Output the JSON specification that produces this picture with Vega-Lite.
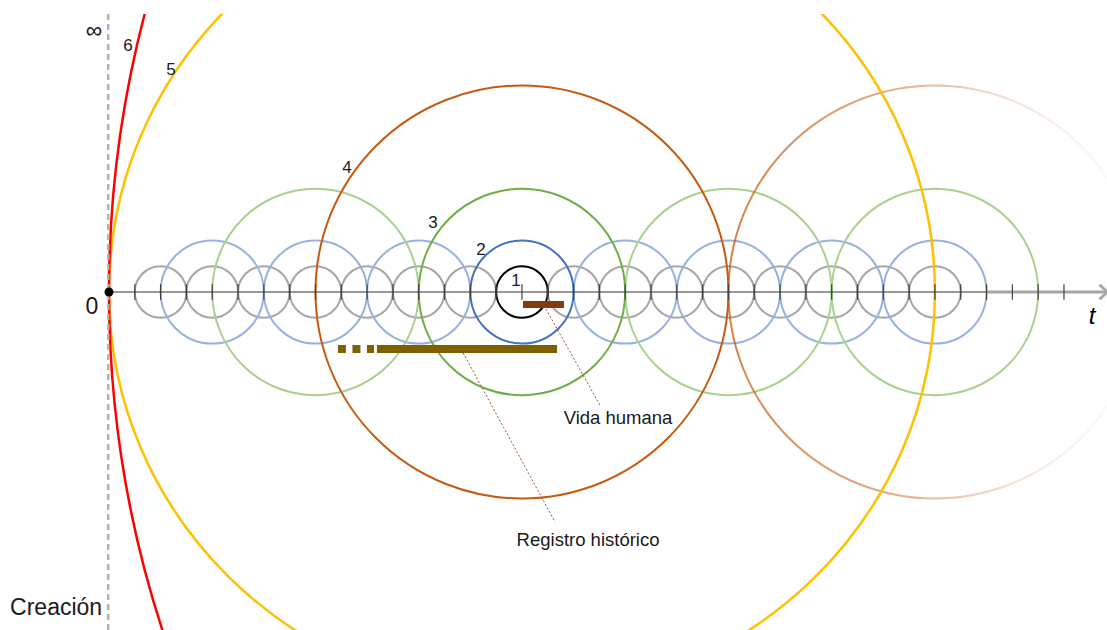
{
  "$schema": "https://vega.github.io/schema/vega-lite/v6.json",
  "autosize": "none",
  "width": 1107,
  "height": 616,
  "padding": {"top": 14, "left": 0, "right": 0, "bottom": 0},
  "background": "white",
  "config": {"view": {"stroke": null}},
  "datasets": {
    "light": [
      {"level": "gris", "t": 2, "r": 1}, {"level": "gris", "t": 4, "r": 1}, {"level": "gris", "t": 6, "r": 1},
      {"level": "gris", "t": 8, "r": 1}, {"level": "gris", "t": 10, "r": 1}, {"level": "gris", "t": 12, "r": 1},
      {"level": "gris", "t": 14, "r": 1}, {"level": "gris", "t": 18, "r": 1}, {"level": "gris", "t": 20, "r": 1},
      {"level": "gris", "t": 22, "r": 1}, {"level": "gris", "t": 24, "r": 1}, {"level": "gris", "t": 26, "r": 1},
      {"level": "gris", "t": 28, "r": 1}, {"level": "gris", "t": 30, "r": 1}, {"level": "gris", "t": 32, "r": 1},
      {"level": "azul", "t": 4, "r": 2}, {"level": "azul", "t": 8, "r": 2}, {"level": "azul", "t": 12, "r": 2},
      {"level": "azul", "t": 20, "r": 2}, {"level": "azul", "t": 24, "r": 2}, {"level": "azul", "t": 28, "r": 2},
      {"level": "azul", "t": 32, "r": 2},
      {"level": "verde", "t": 8, "r": 4}, {"level": "verde", "t": 24, "r": 4}, {"level": "verde", "t": 32, "r": 4}
    ],
    "faded": [{"t": 32, "r": 8}],
    "main": [
      {"level": "4", "t": 16, "r": 8},
      {"level": "3", "t": 16, "r": 4},
      {"level": "2", "t": 16, "r": 2},
      {"level": "1", "t": 16, "r": 1}
    ],
    "yellow": [{"level": "5", "t": 16, "r": 16}],
    "red": [{"level": "6", "t": 42.5, "r": 42.5}],
    "axisline": [{"t": 0, "t2": 34, "y": 0, "y2": 0}],
    "axisgray": [
      {"t": 34, "t2": 38.7, "y": 0, "y2": 0},
      {"t": 38.38, "t2": 38.68, "y": 0.28, "y2": 0},
      {"t": 38.38, "t2": 38.68, "y": -0.28, "y2": 0}
    ],
    "ticks": [
      {"t": 1}, {"t": 2}, {"t": 3}, {"t": 4}, {"t": 5}, {"t": 6}, {"t": 7}, {"t": 8}, {"t": 9}, {"t": 10},
      {"t": 11}, {"t": 12}, {"t": 13}, {"t": 14}, {"t": 15}, {"t": 16}, {"t": 17}, {"t": 18}, {"t": 19}, {"t": 20},
      {"t": 21}, {"t": 22}, {"t": 23}, {"t": 24}, {"t": 25}, {"t": 26}, {"t": 27}, {"t": 28}, {"t": 29}, {"t": 30},
      {"t": 31}, {"t": 32}, {"t": 33}, {"t": 34}, {"t": 35}, {"t": 36}, {"t": 37}
    ],
    "vline": [{"t": -0.03, "y": 10.771, "y2": -13.096}],
    "vida": [{"t": 16.04, "t2": 17.63, "y": -0.48}],
    "registro": [{"t": 10.38, "t2": 17.36, "y": -2.21}],
    "registroDots": [{"t": 8.87, "t2": 10.27, "y": -2.21}],
    "leaders": [
      {"t": 16.93, "y": -0.66, "t2": 19.02, "y2": -4.38},
      {"t": 13.72, "y": -2.36, "t2": 17.28, "y2": -8.91}
    ],
    "origin": [{"t": 0, "y": 0}],
    "nums": [
      {"label": "6", "t": 0.74, "y": 9.53},
      {"label": "5", "t": 2.4, "y": 8.6},
      {"label": "4", "t": 9.22, "y": 4.8},
      {"label": "3", "t": 12.55, "y": 2.67},
      {"label": "2", "t": 14.41, "y": 1.63},
      {"label": "1", "t": 15.77, "y": 0.43}
    ],
    "bigText": [
      {"label": "∞", "t": -0.58, "y": 10.11},
      {"label": "0", "t": -0.66, "y": -0.58},
      {"label": "Creación", "t": -2.05, "y": -12.24}
    ],
    "tLabel": [{"label": "t", "t": 38.09, "y": -0.97}],
    "notes": [
      {"label": "Vida humana", "t": 19.72, "y": -4.88},
      {"label": "Registro histórico", "t": 18.56, "y": -9.61}
    ]
  },
  "layer": [
    {
      "data": {"name": "light"},
      "mark": {"type": "point", "shape": "circle", "filled": false, "opacity": 1, "strokeWidth": 2, "clip": true},
      "encoding": {
        "x": {"field": "t", "type": "quantitative", "scale": {"domain": [-4.2232, 38.667], "nice": false, "zero": false}, "axis": null},
        "y": {"datum": 0, "type": "quantitative", "scale": {"domain": [-13.096, 10.771], "nice": false, "zero": false}, "axis": null},
        "size": {"field": "r", "type": "quantitative", "scale": {"type": "pow", "exponent": 2, "domain": [0, 50], "range": [0, 6661561]}, "legend": null},
        "stroke": {"field": "level", "type": "nominal", "scale": {"domain": ["gris", "azul", "verde", "4", "3", "2", "1", "5", "6"], "range": ["#a6a6a6", "#97b2e0", "#a9d18e", "#c55a11", "#70ad47", "#4472c4", "#000000", "#ffc000", "#ff0000"]}, "legend": null}
      }
    },
    {
      "data": {"name": "faded"},
      "mark": {"type": "point", "shape": "circle", "filled": false, "opacity": 1, "strokeWidth": 2, "clip": true,
        "stroke": {"gradient": "linear", "x1": 0, "y1": 0, "x2": 1, "y2": 0, "stops": [
          {"offset": 0, "color": "rgba(197,90,17,0.75)"},
          {"offset": 0.45, "color": "rgba(197,90,17,0.45)"},
          {"offset": 0.75, "color": "rgba(197,90,17,0.12)"},
          {"offset": 1, "color": "rgba(197,90,17,0)"}
        ]}},
      "encoding": {
        "x": {"field": "t", "type": "quantitative", "scale": {"domain": [-4.2232, 38.667], "nice": false, "zero": false}, "axis": null},
        "y": {"datum": 0, "type": "quantitative", "scale": {"domain": [-13.096, 10.771], "nice": false, "zero": false}, "axis": null},
        "size": {"field": "r", "type": "quantitative", "scale": {"type": "pow", "exponent": 2, "domain": [0, 50], "range": [0, 6661561]}, "legend": null}
      }
    },
    {
      "data": {"name": "main"},
      "mark": {"type": "point", "shape": "circle", "filled": false, "opacity": 1, "strokeWidth": 2, "clip": true},
      "encoding": {
        "x": {"field": "t", "type": "quantitative", "scale": {"domain": [-4.2232, 38.667], "nice": false, "zero": false}, "axis": null},
        "y": {"datum": 0, "type": "quantitative", "scale": {"domain": [-13.096, 10.771], "nice": false, "zero": false}, "axis": null},
        "size": {"field": "r", "type": "quantitative", "scale": {"type": "pow", "exponent": 2, "domain": [0, 50], "range": [0, 6661561]}, "legend": null},
        "stroke": {"field": "level", "type": "nominal", "scale": {"domain": ["gris", "azul", "verde", "4", "3", "2", "1", "5", "6"], "range": ["#a6a6a6", "#97b2e0", "#a9d18e", "#c55a11", "#70ad47", "#4472c4", "#000000", "#ffc000", "#ff0000"]}, "legend": null}
      }
    },
    {
      "data": {"name": "yellow"},
      "mark": {"type": "point", "shape": "M -1 0 A 1 0.98 0 1 0 1 0 A 1 0.98 0 1 0 -1 0 Z", "filled": false, "opacity": 1, "strokeWidth": 2.5, "clip": true},
      "encoding": {
        "x": {"field": "t", "type": "quantitative", "scale": {"domain": [-4.2232, 38.667], "nice": false, "zero": false}, "axis": null},
        "y": {"datum": 0, "type": "quantitative", "scale": {"domain": [-13.096, 10.771], "nice": false, "zero": false}, "axis": null},
        "size": {"field": "r", "type": "quantitative", "scale": {"type": "pow", "exponent": 2, "domain": [0, 50], "range": [0, 6661561]}, "legend": null},
        "stroke": {"field": "level", "type": "nominal", "scale": {"domain": ["gris", "azul", "verde", "4", "3", "2", "1", "5", "6"], "range": ["#a6a6a6", "#97b2e0", "#a9d18e", "#c55a11", "#70ad47", "#4472c4", "#000000", "#ffc000", "#ff0000"]}, "legend": null}
      }
    },
    {
      "data": {"name": "red"},
      "mark": {"type": "point", "shape": "circle", "filled": false, "opacity": 1, "strokeWidth": 2.5, "clip": true},
      "encoding": {
        "x": {"field": "t", "type": "quantitative", "scale": {"domain": [-4.2232, 38.667], "nice": false, "zero": false}, "axis": null},
        "y": {"datum": 0, "type": "quantitative", "scale": {"domain": [-13.096, 10.771], "nice": false, "zero": false}, "axis": null},
        "size": {"field": "r", "type": "quantitative", "scale": {"type": "pow", "exponent": 2, "domain": [0, 50], "range": [0, 6661561]}, "legend": null},
        "stroke": {"field": "level", "type": "nominal", "scale": {"domain": ["gris", "azul", "verde", "4", "3", "2", "1", "5", "6"], "range": ["#a6a6a6", "#97b2e0", "#a9d18e", "#c55a11", "#70ad47", "#4472c4", "#000000", "#ffc000", "#ff0000"]}, "legend": null}
      }
    },
    {
      "data": {"name": "vline"},
      "mark": {"type": "rule", "color": "#b3b3b3", "strokeWidth": 2.5, "strokeDash": [6, 4], "clip": true},
      "encoding": {
        "x": {"field": "t", "type": "quantitative"},
        "y": {"field": "y", "type": "quantitative"},
        "y2": {"field": "y2"}
      }
    },
    {
      "data": {"name": "axisgray"},
      "mark": {"type": "rule", "color": "#a6a6a6", "strokeWidth": 3, "clip": true},
      "encoding": {
        "x": {"field": "t", "type": "quantitative"},
        "x2": {"field": "t2"},
        "y": {"field": "y", "type": "quantitative"},
        "y2": {"field": "y2"}
      }
    },
    {
      "data": {"name": "axisline"},
      "mark": {"type": "rule", "color": "#333333", "strokeWidth": 1.2, "clip": true},
      "encoding": {
        "x": {"field": "t", "type": "quantitative"},
        "x2": {"field": "t2"},
        "y": {"field": "y", "type": "quantitative"},
        "y2": {"field": "y2"}
      }
    },
    {
      "data": {"name": "ticks"},
      "mark": {"type": "rule", "color": "#404040", "strokeWidth": 1.2, "clip": true},
      "encoding": {
        "x": {"field": "t", "type": "quantitative"},
        "y": {"datum": -0.3, "type": "quantitative"},
        "y2": {"datum": 0.3}
      }
    },
    {
      "data": {"name": "leaders"},
      "mark": {"type": "rule", "color": "#a0522d", "strokeWidth": 1, "strokeDash": [2, 2], "clip": true},
      "encoding": {
        "x": {"field": "t", "type": "quantitative"},
        "x2": {"field": "t2"},
        "y": {"field": "y", "type": "quantitative"},
        "y2": {"field": "y2"}
      }
    },
    {
      "data": {"name": "vida"},
      "mark": {"type": "rule", "color": "#843c0c", "strokeWidth": 7, "strokeCap": "butt", "clip": true},
      "encoding": {
        "x": {"field": "t", "type": "quantitative"},
        "x2": {"field": "t2"},
        "y": {"field": "y", "type": "quantitative"}
      }
    },
    {
      "data": {"name": "registro"},
      "mark": {"type": "rule", "color": "#7f6000", "strokeWidth": 8, "strokeCap": "butt", "clip": true},
      "encoding": {
        "x": {"field": "t", "type": "quantitative"},
        "x2": {"field": "t2"},
        "y": {"field": "y", "type": "quantitative"}
      }
    },
    {
      "data": {"name": "registroDots"},
      "mark": {"type": "rule", "color": "#7f6000", "strokeWidth": 8, "strokeCap": "butt", "strokeDash": [8, 6.5], "clip": true},
      "encoding": {
        "x": {"field": "t", "type": "quantitative"},
        "x2": {"field": "t2"},
        "y": {"field": "y", "type": "quantitative"}
      }
    },
    {
      "data": {"name": "origin"},
      "mark": {"type": "point", "shape": "circle", "filled": true, "opacity": 1, "color": "#000000", "size": 80},
      "encoding": {
        "x": {"field": "t", "type": "quantitative"},
        "y": {"field": "y", "type": "quantitative"}
      }
    },
    {
      "data": {"name": "nums"},
      "mark": {"type": "text", "font": "Liberation Sans", "fontSize": 17, "color": "#1a1a1a", "align": "center", "baseline": "middle"},
      "encoding": {
        "x": {"field": "t", "type": "quantitative"},
        "y": {"field": "y", "type": "quantitative"},
        "text": {"field": "label"}
      }
    },
    {
      "data": {"name": "bigText"},
      "mark": {"type": "text", "font": "Liberation Sans", "fontSize": 23, "color": "#1a1a1a", "align": "center", "baseline": "middle"},
      "encoding": {
        "x": {"field": "t", "type": "quantitative"},
        "y": {"field": "y", "type": "quantitative"},
        "text": {"field": "label"}
      }
    },
    {
      "data": {"name": "tLabel"},
      "mark": {"type": "text", "font": "Liberation Sans", "fontSize": 24, "fontStyle": "italic", "color": "#000000", "align": "center", "baseline": "middle"},
      "encoding": {
        "x": {"field": "t", "type": "quantitative"},
        "y": {"field": "y", "type": "quantitative"},
        "text": {"field": "label"}
      }
    },
    {
      "data": {"name": "notes"},
      "mark": {"type": "text", "font": "Liberation Sans", "fontSize": 18.5, "color": "#1a1a1a", "align": "center", "baseline": "middle"},
      "encoding": {
        "x": {"field": "t", "type": "quantitative"},
        "y": {"field": "y", "type": "quantitative"},
        "text": {"field": "label"}
      }
    }
  ]
}
